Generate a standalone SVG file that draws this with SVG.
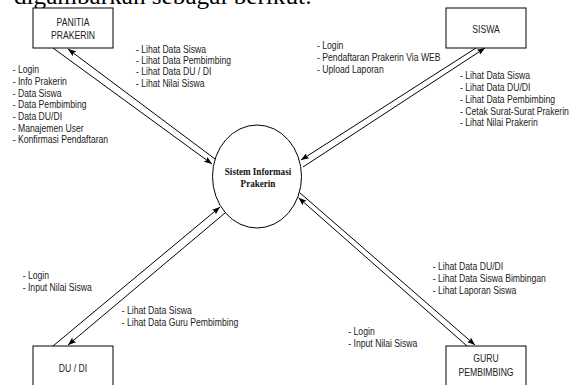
<svg xmlns="http://www.w3.org/2000/svg" width="577" height="385" viewBox="0 0 577 385">
  <style>
    .bg { fill: #ffffff; }
    .box { fill: #ffffff; stroke: #000000; stroke-width: 1; }
    .proc { fill: #ffffff; stroke: #000000; stroke-width: 1; }
    .flow { fill: none; stroke: #000000; stroke-width: 1; marker-end: url(#arrow); }
    .lbl { font-family: "Liberation Sans", Arial, sans-serif; font-size: 10px; fill: #222222; }
    .mid { text-anchor: middle; }
    .ptxt { font-family: "Liberation Serif", "Times New Roman", serif; font-size: 10px; font-weight: bold; fill: #111111; text-anchor: middle; }
    .head { font-family: "Liberation Serif", "Times New Roman", serif; font-size: 24px; fill: #000000; }
  </style>
  <defs>
    <marker id="arrow" viewBox="0 0 8 6" refX="8" refY="3" markerWidth="8" markerHeight="6" orient="auto" markerUnits="userSpaceOnUse">
      <path d="M0,0 L8,3 L0,6 L1.5,3 z" fill="#000000"/>
    </marker>
  </defs>

  <rect class="bg" x="0" y="0" width="577" height="385"/>

  <!-- running text line above the diagram -->
  <text class="head" x="14" y="4" textLength="298" lengthAdjust="spacingAndGlyphs">digambarkan sebagai berikut:</text>

  <!-- data flows -->
  <g id="connectors">
    <path class="flow" d="M53,48 L212,164"/>
    <path class="flow" d="M215,159 L68,49"/>
    <path class="flow" d="M476,48 L301,160"/>
    <path class="flow" d="M303,167 L485,48"/>
    <path class="flow" d="M53,346 L220,207"/>
    <path class="flow" d="M225,213 L68,345"/>
    <path class="flow" d="M467,346 L298.5,197.7"/>
    <path class="flow" d="M299.5,192.5 L475,345"/>
  </g>

  <!-- flow labels -->
  <g id="labels">
    <g transform="translate(12.7,0) scale(0.865,1)">
      <text class="lbl" x="0" y="73.5">- Login</text>
      <text class="lbl" x="0" y="85.2">- Info Prakerin</text>
      <text class="lbl" x="0" y="96.9">- Data Siswa</text>
      <text class="lbl" x="0" y="108.5">- Data Pembimbing</text>
      <text class="lbl" x="0" y="120.2">- Data DU/DI</text>
      <text class="lbl" x="0" y="131.9">- Manajemen User</text>
      <text class="lbl" x="0" y="143.5">- Konfirmasi Pendaftaran</text>
    </g>
    <g transform="translate(136,0) scale(0.865,1)">
      <text class="lbl" x="0" y="52.8">- Lihat Data Siswa</text>
      <text class="lbl" x="0" y="64.1">- Lihat Data Pembimbing</text>
      <text class="lbl" x="0" y="75.4">- Lihat Data DU / DI</text>
      <text class="lbl" x="0" y="86.7">- Lihat Nilai Siswa</text>
    </g>
    <g transform="translate(317,0) scale(0.865,1)">
      <text class="lbl" x="0" y="49.5">- Login</text>
      <text class="lbl" x="0" y="61.1">- Pendaftaran Prakerin Via WEB</text>
      <text class="lbl" x="0" y="72.7">- Upload Laporan</text>
    </g>
    <g transform="translate(460,0) scale(0.865,1)">
      <text class="lbl" x="0" y="79.5">- Lihat Data Siswa</text>
      <text class="lbl" x="0" y="91.2">- Lihat Data DU/DI</text>
      <text class="lbl" x="0" y="102.9">- Lihat Data Pembimbing</text>
      <text class="lbl" x="0" y="114.6">- Cetak Surat-Surat Prakerin</text>
      <text class="lbl" x="0" y="126.3">- Lihat Nilai Prakerin</text>
    </g>
    <g transform="translate(22.7,0) scale(0.865,1)">
      <text class="lbl" x="0" y="279.5">- Login</text>
      <text class="lbl" x="0" y="291.3">- Input Nilai Siswa</text>
    </g>
    <g transform="translate(121.7,0) scale(0.865,1)">
      <text class="lbl" x="0" y="314.5">- Lihat Data Siswa</text>
      <text class="lbl" x="0" y="326.2">- Lihat Data Guru Pembimbing</text>
    </g>
    <g transform="translate(432.7,0) scale(0.865,1)">
      <text class="lbl" x="0" y="270.2">- Lihat Data DU/DI</text>
      <text class="lbl" x="0" y="282">- Lihat Data Siswa Bimbingan</text>
      <text class="lbl" x="0" y="293.8">- Lihat Laporan Siswa</text>
    </g>
    <g transform="translate(348.3,0) scale(0.865,1)">
      <text class="lbl" x="0" y="335.2">- Login</text>
      <text class="lbl" x="0" y="347.2">- Input Nilai Siswa</text>
    </g>
  </g>

  <!-- external entities -->
  <g id="panitia">
    <rect class="box" x="33" y="8" width="80" height="40"/>
    <g transform="translate(73,0) scale(0.865,1)">
      <text class="lbl mid" x="0" y="26.5">PANITIA</text>
      <text class="lbl mid" x="0" y="39">PRAKERIN</text>
    </g>
  </g>
  <g id="siswa">
    <rect class="box" x="446" y="8" width="80" height="40"/>
    <g transform="translate(486,0) scale(0.865,1)">
      <text class="lbl mid" x="0" y="32.6">SISWA</text>
    </g>
  </g>
  <g id="dudi">
    <rect class="box" x="33" y="346" width="80" height="42"/>
    <g transform="translate(73,0) scale(0.865,1)">
      <text class="lbl mid" x="0" y="371.6">DU / DI</text>
    </g>
  </g>
  <g id="guru">
    <rect class="box" x="446" y="346" width="80" height="42"/>
    <g transform="translate(486,0) scale(0.865,1)">
      <text class="lbl mid" x="0" y="362.5">GURU</text>
      <text class="lbl mid" x="0" y="376">PEMBIMBING</text>
    </g>
  </g>

  <!-- central process -->
  <g id="sistem">
    <ellipse class="proc" cx="257" cy="176.5" rx="44.5" ry="51.5"/>
    <g transform="translate(258,0) scale(0.91,1)">
      <text class="ptxt" x="0" y="175">Sistem Informasi</text>
      <text class="ptxt" x="0" y="187">Prakerin</text>
    </g>
  </g>
</svg>
